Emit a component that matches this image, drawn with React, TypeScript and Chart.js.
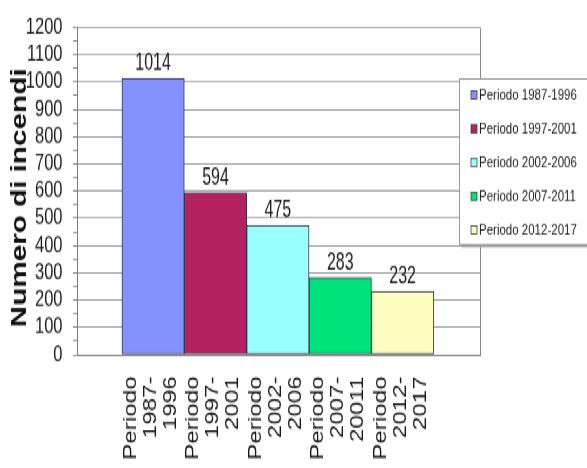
import React, { useEffect, useRef } from "react";
import { Chart, registerables } from "chart.js";

Chart.register(...registerables);

const seriesNames = [
  "Periodo 1987-1996",
  "Periodo 1997-2001",
  "Periodo 2002-2006",
  "Periodo 2007-2011",
  "Periodo 2012-2017",
];
const values = [1014, 594, 475, 283, 232];
const positions = [1, 2, 3, 4, 5];
const tickLabels = [
  ["Periodo", "1987-", "1996"],
  ["Periodo", "1997-", "2001"],
  ["Periodo", "2002-", "2006"],
  ["Periodo", "2007-", "20011"],
  ["Periodo", "2012-", "2017"],
];
const colors = ["#8392FF", "#B42360", "#9CFFFF", "#00E27A", "#FFFDC0"];
const yTitle = "Numero di incendi";

const W = 587;
const H = 347;
const SCALE_Y = 468 / H;
const FONT = "'Liberation Sans', Arial, sans-serif";

const overlayPlugin = {
  id: "overlay",
  afterDatasetsDraw(chart: any) {
    const ctx = chart.ctx;
    ctx.save();
    ctx.font = `16px ${FONT}`;
    ctx.fillStyle = "#1a1a1a";
    ctx.textAlign = "center";
    ctx.textBaseline = "alphabetic";
    chart.data.datasets.forEach((ds: any, i: number) => {
      const meta = chart.getDatasetMeta(i);
      const el = meta.data[0];
      if (!el) return;
      ctx.save();
      ctx.translate(el.x, el.y - 6);
      ctx.scale(1, 1.18);
      ctx.fillText(String(ds.data[0].y), 0, 0);
      ctx.restore();
    });
    ctx.restore();
  },
  afterDraw(chart: any) {
    const ctx = chart.ctx;
    const a = chart.chartArea;
    ctx.save();
    ctx.strokeStyle = "#8a8a8a";
    ctx.lineWidth = 1;
    ctx.beginPath();
    ctx.moveTo(Math.round(a.right) + 0.5, a.top);
    ctx.lineTo(Math.round(a.right) + 0.5, a.bottom);
    ctx.stroke();

    // y-axis title, slightly below the plot centre as in the reference
    ctx.save();
    ctx.font = `bold 22px ${FONT}`;
    ctx.fillStyle = "#111";
    ctx.textAlign = "center";
    ctx.textBaseline = "middle";
    ctx.translate(20, (a.top + a.bottom) / 2 + 5);
    ctx.rotate(-Math.PI / 2);
    ctx.fillText(yTitle, 0, 0);
    ctx.restore();

    const lx = 459.5, ly = 58.5, lw = 130, lh = 123;
    ctx.fillStyle = "#a0a0a0";
    ctx.fillRect(lx + 2, ly + 2, lw, lh);
    ctx.fillStyle = "#ffffff";
    ctx.fillRect(lx, ly, lw, lh);
    ctx.strokeStyle = "#9a9a9a";
    ctx.strokeRect(lx, ly, lw, lh);

    ctx.font = `11.5px ${FONT}`;
    ctx.textAlign = "left";
    ctx.textBaseline = "middle";
    chart.data.datasets.forEach((ds: any, i: number) => {
      const y = 71 + i * 25;
      ctx.fillStyle = ds.backgroundColor;
      ctx.fillRect(471, y - 3.5, 6, 6);
      ctx.strokeStyle = "#444";
      ctx.lineWidth = 0.8;
      ctx.strokeRect(471, y - 3.5, 6, 6);
      ctx.fillStyle = "#222";
      ctx.fillText(ds.label, 479, y);
    });
    ctx.restore();
  },
};

export default function App() {
  const ref = useRef<HTMLCanvasElement | null>(null);

  useEffect(() => {
    if (!ref.current) return;
    const chart = new Chart(ref.current, {
      type: "bar",
      data: {
        datasets: seriesNames.map((name, i) => ({
          label: name,
          data: [{ x: positions[i], y: values[i] }],
          backgroundColor: colors[i],
          borderColor: "#34344a",
          borderWidth: 1,
          borderSkipped: false,
          grouped: false,
          barPercentage: 1,
          categoryPercentage: 1,
        })),
      },
      options: {
        responsive: false,
        animation: false,
        devicePixelRatio: 1,
        layout: { padding: { left: 0, right: 107, top: 18, bottom: 0 } },
        plugins: {
          legend: { display: false },
          tooltip: { enabled: false },
        },
        scales: {
          x: {
            type: "linear",
            min: -0.22,
            max: 6.24,
            offset: false,
            grid: { display: false, drawTicks: false },
            border: { display: true, color: "#6e6e6e", width: 1 },
            afterBuildTicks: (scale: any) => {
              scale.ticks = positions.map((v) => ({ value: v }));
            },
            afterFit: (scale: any) => {
              scale.height = 84;
            },
            ticks: {
              autoSkip: false,
              minRotation: 90,
              maxRotation: 90,
              padding: 16,
              labelOffset: -22,
              color: "#1a1a1a",
              font: { family: FONT, size: 18, lineHeight: 20 / 18 },
              callback: (value: any) => {
                const idx = positions.indexOf(Number(value));
                return idx >= 0 ? tickLabels[idx] : "";
              },
            },
          },
          y: {
            type: "linear",
            min: 0,
            max: 1200,
            afterFit: (scale: any) => {
              scale.width = 77;
            },
            grid: {
              color: (c: any) =>
                c.tick && c.tick.value % 100 === 0 ? "#a3a3a3" : "rgba(0,0,0,0)",
              tickColor: "#8a8a8a",
              tickLength: 4,
              lineWidth: 1,
            },
            border: { display: true, color: "#7a7a7a", width: 1 },
            ticks: {
              stepSize: 50,
              autoSkip: false,
              padding: 10.5,
              color: "#1a1a1a",
              font: { family: FONT, size: 16.5 },
              callback: (value: any) =>
                Number(value) % 100 === 0 ? String(value) : "",
            },
            title: { display: false },
          },
        },
      },
      plugins: [overlayPlugin],
    });
    return () => chart.destroy();
  }, []);

  return (
    <div
      style={{
        position: "fixed",
        left: 0,
        top: 0,
        width: W,
        height: H,
        transform: `scaleY(${SCALE_Y})`,
        transformOrigin: "top left",
        background: "#fff",
      }}
    >
      <canvas ref={ref} width={W} height={H} style={{ width: W, height: H, display: "block" }} />
    </div>
  );
}
